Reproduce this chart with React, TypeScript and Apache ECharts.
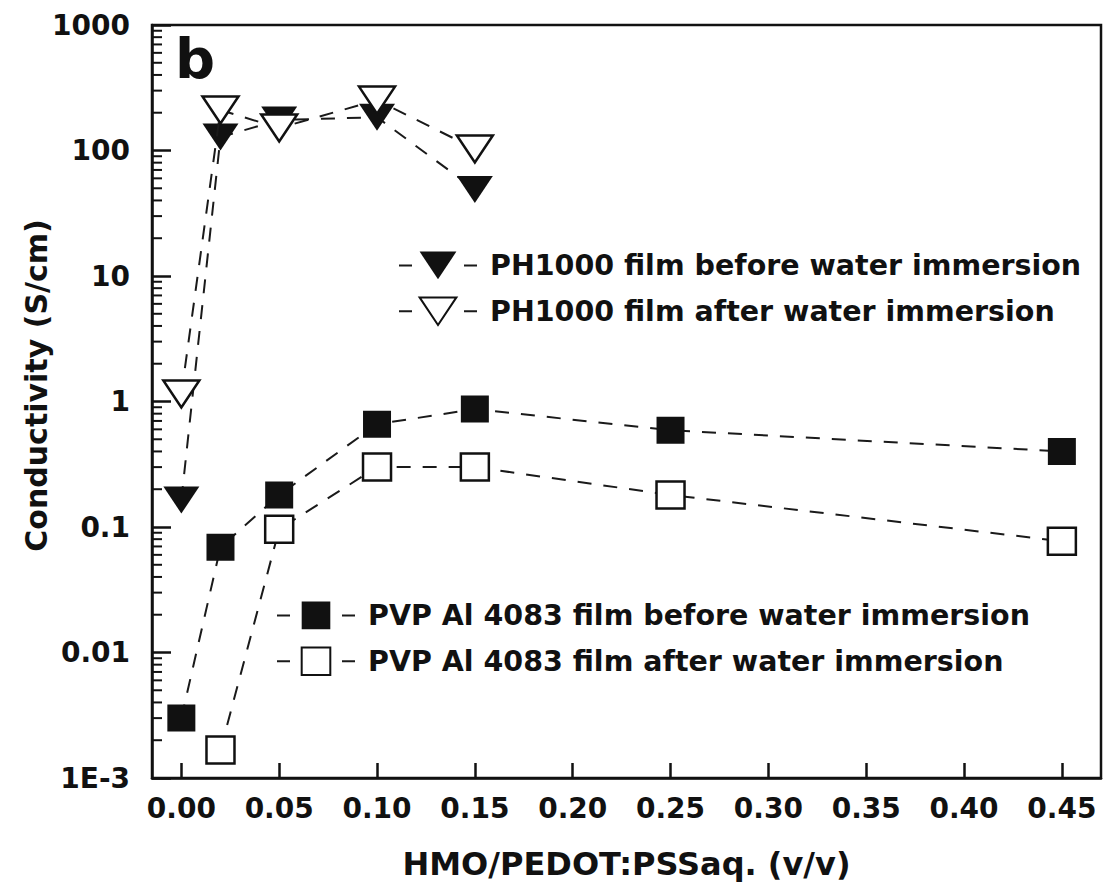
import React, { useEffect, useRef } from 'react';
import * as echarts from 'echarts';

const xTicks = [0, 0.05, 0.1, 0.15, 0.2, 0.25, 0.3, 0.35, 0.4, 0.45];
const yTickValues = [0.001, 0.01, 0.1, 1, 10, 100, 1000];
const yTickLabels = ['1E-3', '0.01', '0.1', '1', '10', '100', '1000'];
const minorMultipliers = [2, 3, 4, 5, 6, 7, 8, 9];

const phX = [0, 0.02, 0.05, 0.1, 0.15];
const phBefore = [0.164, 128, 175, 184, 49];
const phAfter = [1.15, 210, 151, 252, 103];
const pvpBeforeX = [0, 0.02, 0.05, 0.1, 0.15, 0.25, 0.45];
const pvpBefore = [0.003, 0.069, 0.18, 0.66, 0.87, 0.59, 0.4];
const pvpAfterX = [0.02, 0.05, 0.1, 0.15, 0.25, 0.45];
const pvpAfter = [0.00167, 0.096, 0.3, 0.3, 0.18, 0.077];

const names = [
  'PH1000 film before water immersion',
  'PH1000 film after water immersion',
  'PVP Al 4083 film before water immersion',
  'PVP Al 4083 film after water immersion',
];

const X_MIN = -0.015;
const X_MAX = 0.47;

const INK = '#111';
const FONT = '"DejaVu Sans", sans-serif';
const TRI = 'path://M0,0L36,0L18,27ZM0,-4.5M0,31.5';
const SQR = 'path://M4,4.5L32,4.5L32,31.5L4,31.5ZM0,0M36,36';

export default function App() {
  const ref = useRef<HTMLDivElement>(null);
  useEffect(() => {
    if (!ref.current) return;
    const chart = echarts.init(ref.current, null, { renderer: 'svg' });
    const zip = (xs: number[], ys: number[]) => xs.map((x, i) => [x, ys[i]]);
    const minorVals: number[] = [];
    yTickValues.slice(0, -1).forEach((d) => minorMultipliers.forEach((m) => minorVals.push(d * m)));
    const dashed = { type: [14, 12] as any, width: 2, color: '#1a1a1a' };
    const filled = { color: INK, borderColor: INK, borderWidth: 0 };
    const open = { color: '#fff', borderColor: INK, borderWidth: 2.5 };
    const axisLineStyle = { color: INK, width: 2.5 };
    const labelStyle = { fontFamily: FONT, fontWeight: 'bold' as const, fontSize: 28, color: INK };
    const legendBase = {
      orient: 'vertical' as const,
      itemWidth: 78,
      itemHeight: 46,
      itemGap: 8,
      selectedMode: false,
      textStyle: { ...labelStyle, fontSize: 28.5, padding: [0, 0, 0, 8] },
      lineStyle: { type: [13, 52] as any, width: 2, color: '#1a1a1a' },
    };
    const option: any = {
      animation: false,
      backgroundColor: '#fff',
      grid: {
        left: 152, right: 13, top: 25, bottom: 107,
        show: true, borderColor: INK, borderWidth: 2.5, backgroundColor: 'transparent',
        outerBoundsMode: 'none',
      },
      xAxis: {
        type: 'value', min: X_MIN, max: X_MAX,
        axisLine: { onZero: false, lineStyle: axisLineStyle },
        axisTick: { inside: true, length: 15, customValues: xTicks, lineStyle: { color: INK, width: 2.5 } },
        axisLabel: { ...labelStyle, customValues: xTicks, margin: 16, formatter: (v: number) => v.toFixed(2) },
        splitLine: { show: false },
        name: 'HMO/PEDOT:PSSaq. (v/v)', nameLocation: 'middle', nameGap: 70, nameMoveOverlap: false,
        nameTextStyle: { ...labelStyle, fontSize: 32 },
      },
      yAxis: {
        type: 'log', logBase: 10, min: yTickValues[0], max: yTickValues[yTickValues.length - 1],
        axisLine: { onZero: false, lineStyle: axisLineStyle },
        axisTick: { inside: true, length: 19, lineStyle: { color: INK, width: 2.5 } },
        axisLabel: {
          ...labelStyle, margin: 22,
          formatter: (v: number) => {
            const i = Math.round(Math.log10(v)) + 3;
            return yTickLabels[i] ?? '';
          },
        },
        splitLine: { show: false },
        name: 'Conductivity (S/cm)', nameLocation: 'middle', nameGap: 101, nameRotate: 90, nameMoveOverlap: false,
        nameTextStyle: { ...labelStyle, fontSize: 30, padding: [0, 0, 0, 32] },
      },
      legend: [
        { ...legendBase, data: [names[0], names[1]], left: 393, top: 242 },
        { ...legendBase, data: [names[2], names[3]], left: 271, top: 592 },
      ],
      graphic: [
        { type: 'text', left: 175, top: 30, style: { text: 'b', fontFamily: FONT, fontWeight: 'bold', fontSize: 56, fill: INK } },
      ],
      series: [
        {
          type: 'custom', silent: true, clip: false, z: 1,
          data: minorVals.map((v) => [X_MIN, v]),
          renderItem: (_p: any, api: any) => {
            const pt = api.coord([api.value(0), api.value(1)]);
            return { type: 'line', shape: { x1: pt[0], y1: pt[1], x2: pt[0] + 10, y2: pt[1] }, style: { stroke: INK, lineWidth: 2 } };
          },
        },
        { name: names[0], type: 'line', data: zip(phX, phBefore), symbol: TRI, symbolSize: [36, 36], lineStyle: dashed, itemStyle: filled, z: 3 },
        { name: names[1], type: 'line', data: zip(phX, phAfter), symbol: TRI, symbolSize: [36, 36], lineStyle: dashed, itemStyle: open, z: 4 },
        { name: names[2], type: 'line', data: zip(pvpBeforeX, pvpBefore), symbol: SQR, symbolSize: [36, 36], lineStyle: dashed, itemStyle: filled, z: 3 },
        { name: names[3], type: 'line', data: zip(pvpAfterX, pvpAfter), symbol: SQR, symbolSize: [36, 36], lineStyle: dashed, itemStyle: open, z: 4 },
      ],
    };
    chart.setOption(option);
    return () => chart.dispose();
  }, []);
  return <div ref={ref} style={{ position: 'absolute', left: 0, top: 0, width: 1114, height: 885 }} />;
}
